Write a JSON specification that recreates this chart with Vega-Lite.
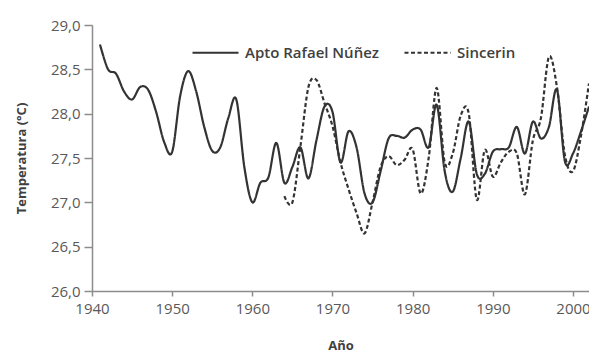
{
  "$schema": "https://vega.github.io/schema/vega-lite/v6.json",
  "width": 497,
  "height": 266,
  "autosize": {"type": "none"},
  "padding": {"left": 92, "top": 25, "right": 0, "bottom": 67},
  "background": "white",
  "config": {"view": {"stroke": null}, "font": "Open Sans"},
  "data": {"values": [
    {"station": "Apto Rafael Núñez", "year": 1941, "temp": 28.78},
    {"station": "Apto Rafael Núñez", "year": 1942, "temp": 28.5},
    {"station": "Apto Rafael Núñez", "year": 1943, "temp": 28.45},
    {"station": "Apto Rafael Núñez", "year": 1944, "temp": 28.25},
    {"station": "Apto Rafael Núñez", "year": 1945, "temp": 28.16},
    {"station": "Apto Rafael Núñez", "year": 1946, "temp": 28.3},
    {"station": "Apto Rafael Núñez", "year": 1947, "temp": 28.27},
    {"station": "Apto Rafael Núñez", "year": 1948, "temp": 28.02},
    {"station": "Apto Rafael Núñez", "year": 1949, "temp": 27.68},
    {"station": "Apto Rafael Núñez", "year": 1950, "temp": 27.57},
    {"station": "Apto Rafael Núñez", "year": 1951, "temp": 28.2},
    {"station": "Apto Rafael Núñez", "year": 1952, "temp": 28.48},
    {"station": "Apto Rafael Núñez", "year": 1953, "temp": 28.25},
    {"station": "Apto Rafael Núñez", "year": 1954, "temp": 27.85},
    {"station": "Apto Rafael Núñez", "year": 1955, "temp": 27.58},
    {"station": "Apto Rafael Núñez", "year": 1956, "temp": 27.62},
    {"station": "Apto Rafael Núñez", "year": 1957, "temp": 27.95},
    {"station": "Apto Rafael Núñez", "year": 1958, "temp": 28.16},
    {"station": "Apto Rafael Núñez", "year": 1959, "temp": 27.4},
    {"station": "Apto Rafael Núñez", "year": 1960, "temp": 27.0},
    {"station": "Apto Rafael Núñez", "year": 1961, "temp": 27.22},
    {"station": "Apto Rafael Núñez", "year": 1962, "temp": 27.28},
    {"station": "Apto Rafael Núñez", "year": 1963, "temp": 27.67},
    {"station": "Apto Rafael Núñez", "year": 1964, "temp": 27.22},
    {"station": "Apto Rafael Núñez", "year": 1965, "temp": 27.4},
    {"station": "Apto Rafael Núñez", "year": 1966, "temp": 27.62},
    {"station": "Apto Rafael Núñez", "year": 1967, "temp": 27.27},
    {"station": "Apto Rafael Núñez", "year": 1968, "temp": 27.7},
    {"station": "Apto Rafael Núñez", "year": 1969, "temp": 28.08},
    {"station": "Apto Rafael Núñez", "year": 1970, "temp": 28.02},
    {"station": "Apto Rafael Núñez", "year": 1971, "temp": 27.45},
    {"station": "Apto Rafael Núñez", "year": 1972, "temp": 27.8},
    {"station": "Apto Rafael Núñez", "year": 1973, "temp": 27.62},
    {"station": "Apto Rafael Núñez", "year": 1974, "temp": 27.1},
    {"station": "Apto Rafael Núñez", "year": 1975, "temp": 27.0},
    {"station": "Apto Rafael Núñez", "year": 1976, "temp": 27.35},
    {"station": "Apto Rafael Núñez", "year": 1977, "temp": 27.72},
    {"station": "Apto Rafael Núñez", "year": 1978, "temp": 27.75},
    {"station": "Apto Rafael Núñez", "year": 1979, "temp": 27.73},
    {"station": "Apto Rafael Núñez", "year": 1980, "temp": 27.82},
    {"station": "Apto Rafael Núñez", "year": 1981, "temp": 27.82},
    {"station": "Apto Rafael Núñez", "year": 1982, "temp": 27.62},
    {"station": "Apto Rafael Núñez", "year": 1983, "temp": 28.1},
    {"station": "Apto Rafael Núñez", "year": 1984, "temp": 27.35},
    {"station": "Apto Rafael Núñez", "year": 1985, "temp": 27.12},
    {"station": "Apto Rafael Núñez", "year": 1986, "temp": 27.5},
    {"station": "Apto Rafael Núñez", "year": 1987, "temp": 27.91},
    {"station": "Apto Rafael Núñez", "year": 1988, "temp": 27.32},
    {"station": "Apto Rafael Núñez", "year": 1989, "temp": 27.32},
    {"station": "Apto Rafael Núñez", "year": 1990, "temp": 27.57},
    {"station": "Apto Rafael Núñez", "year": 1991, "temp": 27.6},
    {"station": "Apto Rafael Núñez", "year": 1992, "temp": 27.62},
    {"station": "Apto Rafael Núñez", "year": 1993, "temp": 27.85},
    {"station": "Apto Rafael Núñez", "year": 1994, "temp": 27.55},
    {"station": "Apto Rafael Núñez", "year": 1995, "temp": 27.91},
    {"station": "Apto Rafael Núñez", "year": 1996, "temp": 27.72},
    {"station": "Apto Rafael Núñez", "year": 1997, "temp": 27.85},
    {"station": "Apto Rafael Núñez", "year": 1998, "temp": 28.27},
    {"station": "Apto Rafael Núñez", "year": 1999, "temp": 27.46},
    {"station": "Apto Rafael Núñez", "year": 2000, "temp": 27.55},
    {"station": "Apto Rafael Núñez", "year": 2001, "temp": 27.8},
    {"station": "Apto Rafael Núñez", "year": 2002, "temp": 28.08},
    {"station": "Sincerin", "year": 1964, "temp": 27.07},
    {"station": "Sincerin", "year": 1965, "temp": 27.0},
    {"station": "Sincerin", "year": 1966, "temp": 27.63},
    {"station": "Sincerin", "year": 1967, "temp": 28.3},
    {"station": "Sincerin", "year": 1968, "temp": 28.38},
    {"station": "Sincerin", "year": 1969, "temp": 28.12},
    {"station": "Sincerin", "year": 1970, "temp": 27.86},
    {"station": "Sincerin", "year": 1971, "temp": 27.45},
    {"station": "Sincerin", "year": 1972, "temp": 27.15},
    {"station": "Sincerin", "year": 1973, "temp": 26.88},
    {"station": "Sincerin", "year": 1974, "temp": 26.65},
    {"station": "Sincerin", "year": 1975, "temp": 27.0},
    {"station": "Sincerin", "year": 1976, "temp": 27.4},
    {"station": "Sincerin", "year": 1977, "temp": 27.52},
    {"station": "Sincerin", "year": 1978, "temp": 27.42},
    {"station": "Sincerin", "year": 1979, "temp": 27.48},
    {"station": "Sincerin", "year": 1980, "temp": 27.6},
    {"station": "Sincerin", "year": 1981, "temp": 27.1},
    {"station": "Sincerin", "year": 1982, "temp": 27.5},
    {"station": "Sincerin", "year": 1983, "temp": 28.29},
    {"station": "Sincerin", "year": 1984, "temp": 27.45},
    {"station": "Sincerin", "year": 1985, "temp": 27.55},
    {"station": "Sincerin", "year": 1986, "temp": 27.98},
    {"station": "Sincerin", "year": 1987, "temp": 28.0},
    {"station": "Sincerin", "year": 1988, "temp": 27.03},
    {"station": "Sincerin", "year": 1989, "temp": 27.59},
    {"station": "Sincerin", "year": 1990, "temp": 27.29},
    {"station": "Sincerin", "year": 1991, "temp": 27.45},
    {"station": "Sincerin", "year": 1992, "temp": 27.57},
    {"station": "Sincerin", "year": 1993, "temp": 27.55},
    {"station": "Sincerin", "year": 1994, "temp": 27.09},
    {"station": "Sincerin", "year": 1995, "temp": 27.7},
    {"station": "Sincerin", "year": 1996, "temp": 27.95},
    {"station": "Sincerin", "year": 1997, "temp": 28.64},
    {"station": "Sincerin", "year": 1998, "temp": 28.3},
    {"station": "Sincerin", "year": 1999, "temp": 27.53},
    {"station": "Sincerin", "year": 2000, "temp": 27.35},
    {"station": "Sincerin", "year": 2001, "temp": 27.75},
    {"station": "Sincerin", "year": 2002, "temp": 28.34}
  ]},
  "mark": {"type": "line", "interpolate": "cardinal", "color": "#333333", "strokeWidth": 2.2},
  "encoding": {
    "x": {
      "field": "year", "type": "quantitative",
      "scale": {"domain": [1940, 2002], "nice": false, "zero": false},
      "axis": {
        "values": [1940, 1950, 1960, 1970, 1980, 1990, 2000],
        "format": "d", "grid": false,
        "title": "Año", "titleFontSize": 13, "titleFontWeight": "bold", "titleColor": "#404040",
        "titleY": 54, "titleBaseline": "middle",
        "labelFontSize": 15, "labelColor": "#595959", "labelPadding": 5,
        "domainColor": "#8c8c8c", "domainWidth": 1.5,
        "tickColor": "#8c8c8c", "tickWidth": 1.5, "tickSize": 5,
        "labelFlush": false
      }
    },
    "y": {
      "field": "temp", "type": "quantitative",
      "scale": {"domain": [26, 29], "nice": false, "zero": false},
      "axis": {
        "values": [26, 26.5, 27, 27.5, 28, 28.5, 29],
        "labelExpr": "replace(format(datum.value, '.1f'), '.', ',')",
        "grid": false,
        "title": "Temperatura (°C)", "titleFontSize": 13, "titleFontWeight": "bold", "titleColor": "#404040",
        "titleX": -71, "titleY": 133, "titleAngle": -90, "titleAlign": "center", "titleBaseline": "middle",
        "labelFontSize": 15, "labelColor": "#595959", "labelPadding": 4,
        "domainColor": "#8c8c8c", "domainWidth": 1.5,
        "tickColor": "#8c8c8c", "tickWidth": 1.5, "tickSize": 8
      }
    },
    "strokeDash": {
      "field": "station", "type": "nominal",
      "scale": {"domain": ["Apto Rafael Núñez", "Sincerin"], "range": [[1, 0], [4, 2.5]]},
      "legend": {
        "title": null, "orient": "none", "direction": "horizontal",
        "legendX": 99, "legendY": 3,
        "symbolType": "stroke", "symbolSize": 2116, "symbolStrokeWidth": 2.2, "symbolStrokeColor": "#333333",
        "labelFontSize": 15, "labelFontWeight": 600, "labelColor": "#404040",
        "labelOffset": 5, "columnPadding": 21, "labelLimit": 300
      }
    }
  }
}
